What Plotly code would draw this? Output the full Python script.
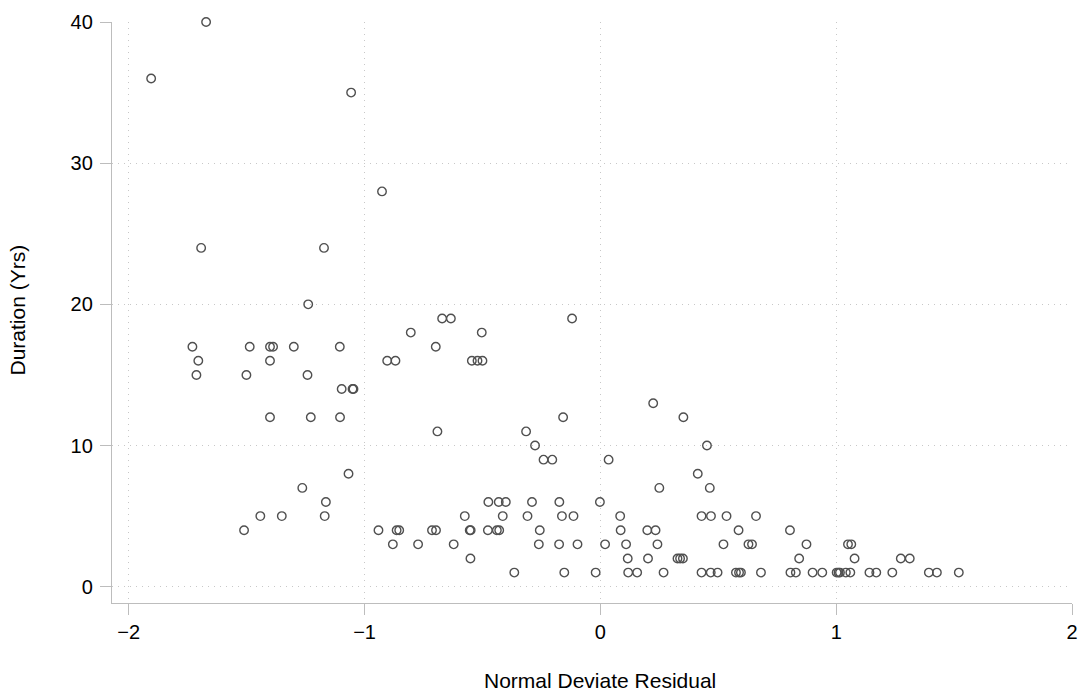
import plotly.graph_objects as go

# Normal deviate residuals grouped by duration (years)
residual_by_duration = {
    40: [-1.672],
    36: [-1.905],
    35: [-1.057],
    28: [-0.926],
    24: [-1.693, -1.172],
    20: [-1.239],
    19: [-0.671, -0.634, -0.120],
    18: [-0.804, -0.503],
    17: [-1.730, -1.487, -1.401, -1.388, -1.300, -1.105, -0.698],
    16: [-1.705, -1.401, -0.904, -0.869, -0.545, -0.521, -0.500],
    15: [-1.713, -1.501, -1.242],
    14: [-1.097, -1.051, -1.047],
    13: [0.224],
    12: [-1.401, -1.228, -1.104, -0.158, 0.352],
    11: [-0.691, -0.315],
    10: [-0.277, 0.452],
    9: [-0.241, -0.204, 0.035],
    8: [-1.068, 0.413],
    7: [-1.264, 0.250, 0.464],
    6: [-1.164, -0.475, -0.431, -0.401, -0.290, -0.174, -0.002],
    5: [-1.442, -1.351, -1.169, -0.575, -0.414, -0.309, -0.163, -0.114,
        0.084, 0.429, 0.469, 0.535, 0.660],
    4: [-1.511, -0.941, -0.864, -0.853, -0.714, -0.697, -0.554, -0.550,
        -0.477, -0.439, -0.429, -0.257, 0.086, 0.199, 0.234, 0.586, 0.804],
    3: [-0.880, -0.773, -0.622, -0.261, -0.175, -0.097, 0.020, 0.109,
        0.242, 0.522, 0.628, 0.643, 0.874, 1.050, 1.064],
    2: [-0.551, 0.116, 0.202, 0.327, 0.338, 0.350, 0.843, 1.078, 1.274, 1.312],
    1: [-0.365, -0.153, -0.020, 0.118, 0.156, 0.268, 0.429, 0.468, 0.497,
        0.575, 0.588, 0.596, 0.681, 0.806, 0.829, 0.900, 0.941, 1.002,
        1.010, 1.016, 1.041, 1.060, 1.141, 1.170, 1.238, 1.393, 1.427, 1.520],
}

residuals = [r for d, rs in residual_by_duration.items() for r in rs]
durations = [d for d, rs in residual_by_duration.items() for _ in rs]

x_ticks = [-2, -1, 0, 1, 2]
x_tick_labels = ["\u22122", "\u22121", "0", "1", "2"]
y_ticks = [0, 10, 20, 30, 40]

FONT = "Liberation Sans, Arial, Helvetica, sans-serif"

fig = go.Figure()
fig.add_trace(go.Scatter(
    x=residuals, y=durations, mode="markers",
    marker=dict(symbol="circle-open", size=8.5, color="#505050",
                line=dict(width=1.4, color="#505050")),
    cliponaxis=False, showlegend=False,
))

axis_common = dict(
    showline=True, linecolor="#bdbdbd", linewidth=1.3,
    ticks="outside", ticklen=11, tickwidth=1.3, tickcolor="#bdbdbd",
    showgrid=True, gridcolor="#c8c8c8", gridwidth=1, griddash="1px,5px",
    zeroline=False, automargin=False,
    tickfont=dict(family=FONT, size=20, color="#000000"),
)

fig.update_xaxes(range=[-2.071, 2.0], tickvals=x_ticks,
                 ticktext=x_tick_labels, **axis_common)
fig.update_yaxes(range=[-1.154, 40], tickvals=y_ticks,
                 ticklabelstandoff=3, **axis_common)

fig.add_annotation(text="Normal Deviate Residual", xref="paper", yref="paper",
                   x=0.508, y=-0.133, xanchor="center", yanchor="middle",
                   showarrow=False, font=dict(family=FONT, size=21, color="#000"))
fig.add_annotation(text="Duration (Yrs)", xref="paper", yref="paper",
                   x=-0.098, y=0.505, xanchor="center", yanchor="middle",
                   textangle=-90, showarrow=False,
                   font=dict(family=FONT, size=21, color="#000"))

fig.update_layout(
    width=1083, height=691,
    margin=dict(l=112, r=11, t=22, b=88),
    plot_bgcolor="white", paper_bgcolor="white",
    font=dict(family=FONT),
)

fig.write_html("out.html")
